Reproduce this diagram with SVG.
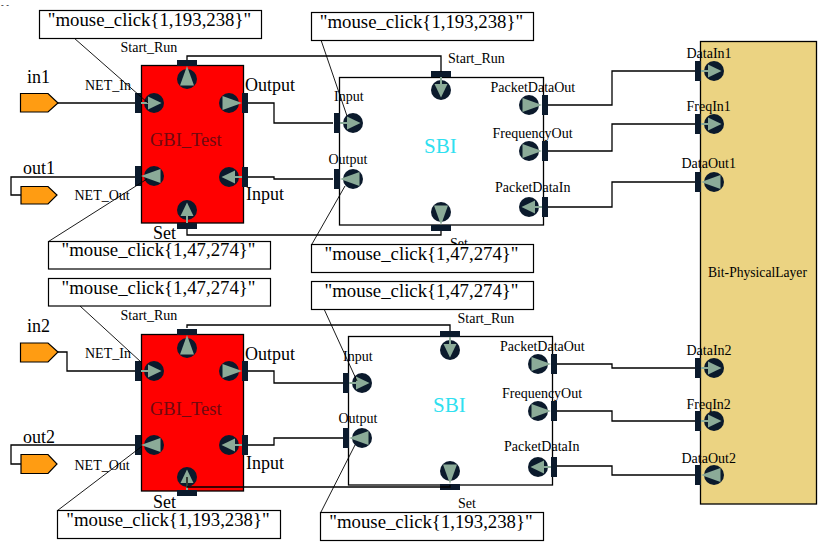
<svg xmlns="http://www.w3.org/2000/svg" xmlns:xlink="http://www.w3.org/1999/xlink" width="829" height="548" viewBox="0 0 829 548">
<style>
text{font-family:"Liberation Serif","Times New Roman",serif;fill:#000}
.s{font-size:14px}
.m{font-size:18px}
.c{font-size:18.800px;text-anchor:middle}
.g{font-size:18.500px;fill:#6e0a10}
.b{font-size:21px;fill:#2fe0f0}
.block{stroke:#000;stroke-width:1.3}
.wire{fill:none;stroke:#000;stroke-width:1.3}
.lead{fill:none;stroke:#000;stroke-width:.9}
.box{fill:#fff;stroke:#000;stroke-width:1.2}
.term{fill:#ff9c12;stroke:#000;stroke-width:1.2}
</style>
<defs>
<g id="pin"><rect x="-19" y="-10" width="6" height="20" fill="#0b1a2c"/><circle r="10" fill="#0b1a2c"/><path d="M-13 0H-5" stroke="#8bab98" stroke-width="2"/><path d="M-6-6.500V6.500L7.500 0Z" fill="#8bab98"/></g>
<g id="pout"><rect x="-19" y="-10" width="6" height="20" fill="#0b1a2c"/><circle r="10" fill="#0b1a2c"/><path d="M6.500-7V7L-13 0Z" fill="#8bab98"/></g>
</defs>
<rect width="829" height="548" fill="#fff"/>
<text x="1" y="7.500" style="font-size:8px;letter-spacing:2.500px">--</text>

<g id="in1"><path class="term" d="M20.500 93.500H48L58 103L48 112H20.500Z"/><text class="m" x="27" y="83">in1</text></g>
<g id="out1"><path class="term" d="M21 186.500H48L57 195L48 204H21Z"/><text class="m" x="23" y="174">out1</text></g>
<g id="in2"><path class="term" d="M20.500 343H48L58 352L48 362H20.500Z"/><text class="m" x="27" y="332">in2</text></g>
<g id="out2"><path class="term" d="M21 454.500H48L57 464L48 473.500H21Z"/><text class="m" x="23" y="443">out2</text></g>

<g id="gbi1">
<rect class="block" x="141.500" y="65.500" width="102" height="157.500" fill="#ff0000"/>
<use href="#pout" transform="translate(187 79) rotate(90)"/>
<use href="#pin" transform="translate(154 103)"/>
<use href="#pout" transform="translate(229 103) rotate(180)"/>
<use href="#pout" transform="translate(154 176)"/>
<use href="#pin" transform="translate(229 177) rotate(180)"/>
<use href="#pin" transform="translate(187 210) rotate(-90)"/>
<text class="g" x="150" y="145.500">GBI_Test</text>
<text class="s" x="120.500" y="52">Start_Run</text>
<text class="s" x="85" y="90">NET_In</text>
<text class="m" x="245" y="91">Output</text>
<text class="s" x="74.500" y="200">NET_Out</text>
<text class="m" x="246" y="200">Input</text>
<text class="m" x="153" y="239">Set</text>
</g>

<g id="sbi1">
<rect class="block" x="339.500" y="77.500" width="204" height="147.500" fill="#fff"/>
<use href="#pin" transform="translate(441 90) rotate(90)"/>
<use href="#pin" transform="translate(353 123)"/>
<use href="#pout" transform="translate(353 179)"/>
<use href="#pout" transform="translate(529 105) rotate(180)"/>
<use href="#pout" transform="translate(529 151) rotate(180)"/>
<use href="#pin" transform="translate(529 207) rotate(180)"/>
<use href="#pout" transform="translate(441 212) rotate(-90)"/>
<text class="b" x="424" y="153">SBI</text>
<text class="s" x="448" y="63">Start_Run</text>
<text class="s" x="334" y="100.500">Input</text>
<text class="s" x="328.500" y="164">Output</text>
<text class="s" x="490.500" y="92">PacketDataOut</text>
<text class="s" x="492.500" y="138">FrequencyOut</text>
<text class="s" x="495" y="192">PacketDataIn</text>
<text class="s" x="450" y="248">Set</text>
</g>

<g id="gbi2">
<rect class="block" x="141.500" y="334.500" width="102" height="156.500" fill="#ff0000"/>
<use href="#pout" transform="translate(187 348) rotate(90)"/>
<use href="#pin" transform="translate(154 371)"/>
<use href="#pout" transform="translate(229 371) rotate(180)"/>
<use href="#pout" transform="translate(154 445)"/>
<use href="#pin" transform="translate(229 445) rotate(180)"/>
<use href="#pin" transform="translate(187 477) rotate(-90)"/>
<text class="g" x="150" y="415">GBI_Test</text>
<text class="s" x="120.500" y="320">Start_Run</text>
<text class="s" x="85" y="358">NET_In</text>
<text class="m" x="245" y="360">Output</text>
<text class="s" x="74.500" y="470">NET_Out</text>
<text class="m" x="246" y="469">Input</text>
<text class="m" x="153" y="508">Set</text>
</g>

<g id="sbi2">
<rect class="block" x="348.500" y="336.500" width="204" height="148.500" fill="#fff"/>
<use href="#pin" transform="translate(450 350) rotate(90)"/>
<use href="#pin" transform="translate(362 383)"/>
<use href="#pout" transform="translate(362 438)"/>
<use href="#pout" transform="translate(538 364) rotate(180)"/>
<use href="#pout" transform="translate(538 411) rotate(180)"/>
<use href="#pin" transform="translate(538 467) rotate(180)"/>
<use href="#pout" transform="translate(450 471) rotate(-90)"/>
<text class="b" x="433" y="411.500">SBI</text>
<text class="s" x="457.500" y="323">Start_Run</text>
<text class="s" x="343" y="361">Input</text>
<text class="s" x="338.500" y="422.500">Output</text>
<text class="s" x="500" y="350.500">PacketDataOut</text>
<text class="s" x="502" y="397.500">FrequencyOut</text>
<text class="s" x="504" y="450.500">PacketDataIn</text>
<text class="s" x="458" y="507.500">Set</text>
</g>

<g id="phy">
<rect class="block" x="700.500" y="41.500" width="116" height="462.500" fill="#ebd382"/>
<use href="#pin" transform="translate(714 71)"/>
<use href="#pin" transform="translate(714 124)"/>
<use href="#pout" transform="translate(714 182)"/>
<use href="#pin" transform="translate(714 368)"/>
<use href="#pin" transform="translate(714 421)"/>
<use href="#pout" transform="translate(714 475)"/>
<text x="708" y="277" style="font-size:13.600px">Bit-PhysicalLayer</text>
<text class="s" x="686.500" y="57.500">DataIn1</text>
<text class="s" x="686.500" y="111">FreqIn1</text>
<text class="s" x="681.500" y="168">DataOut1</text>
<text class="s" x="686.500" y="354.500">DataIn2</text>
<text class="s" x="686.500" y="409">FreqIn2</text>
<text class="s" x="681.500" y="462.500">DataOut2</text>
</g>

<g id="connectors">
<path class="wire" d="M58 103H135"/>
<path class="wire" d="M135 177H11V195H21"/>
<path class="wire" d="M248 103H274V123H333"/>
<path class="wire" d="M248 177H274V179H333"/>
<path class="wire" d="M187 60V56H441V72"/>
<path class="wire" d="M187 229V235H441V231"/>
<path class="wire" d="M548 105H612V71H695"/>
<path class="wire" d="M548 151H612V124H695"/>
<path class="wire" d="M548 207H612V182H695"/>
<path class="wire" d="M58 352H67V371H135"/>
<path class="wire" d="M135 445H11V464H21"/>
<path class="wire" d="M248 371H274V383H343"/>
<path class="wire" d="M248 445H274V438H343"/>
<path class="wire" d="M187 328V325H450V331"/>
<path class="wire" d="M187 477V487H450V485"/>
<path class="wire" d="M557 364H612V368H695"/>
<path class="wire" d="M557 411H612V421H695"/>
<path class="wire" d="M557 466H612V475H695"/>
<path class="lead" d="M74 38L148 103"/>
<path class="lead" d="M48.500 241.500L147 179"/>
<path class="lead" d="M80 306L141 362"/>
<path class="lead" d="M57.500 510.500L141 447"/>
<path class="lead" d="M321 40L347 116"/>
<path class="lead" d="M312 244L345 186"/>
<path class="lead" d="M324 309L357 381"/>
<path class="lead" d="M321 512L355 445"/>
</g>

<g id="note1"><rect class="box" x="39.500" y="10.500" width="222" height="28"/><text class="c" x="149.500" y="26">"mouse_click{1,193,238}"</text></g>
<g id="note2"><rect class="box" x="48.500" y="241.500" width="222" height="27.500"/><text class="c" x="158.500" y="256">"mouse_click{1,47,274}"</text></g>
<g id="note3"><rect class="box" x="48.500" y="278.500" width="222" height="27.500"/><text class="c" x="158.500" y="294">"mouse_click{1,47,274}"</text></g>
<g id="note4"><rect class="box" x="57.500" y="510.500" width="223" height="28"/><text class="c" x="168" y="526">"mouse_click{1,193,238}"</text></g>
<g id="note5"><rect class="box" x="311.500" y="12.500" width="222" height="28"/><text class="c" x="421.500" y="28">"mouse_click{1,193,238}"</text></g>
<g id="note6"><rect class="box" x="311.500" y="244.500" width="222" height="28"/><text class="c" x="421.500" y="260">"mouse_click{1,47,274}"</text></g>
<g id="note7"><rect class="box" x="311.500" y="281.500" width="222" height="28"/><text class="c" x="421.500" y="297">"mouse_click{1,47,274}"</text></g>
<g id="note8"><rect class="box" x="320.500" y="512.500" width="223" height="28"/><text class="c" x="431" y="528">"mouse_click{1,193,238}"</text></g>
</svg>
